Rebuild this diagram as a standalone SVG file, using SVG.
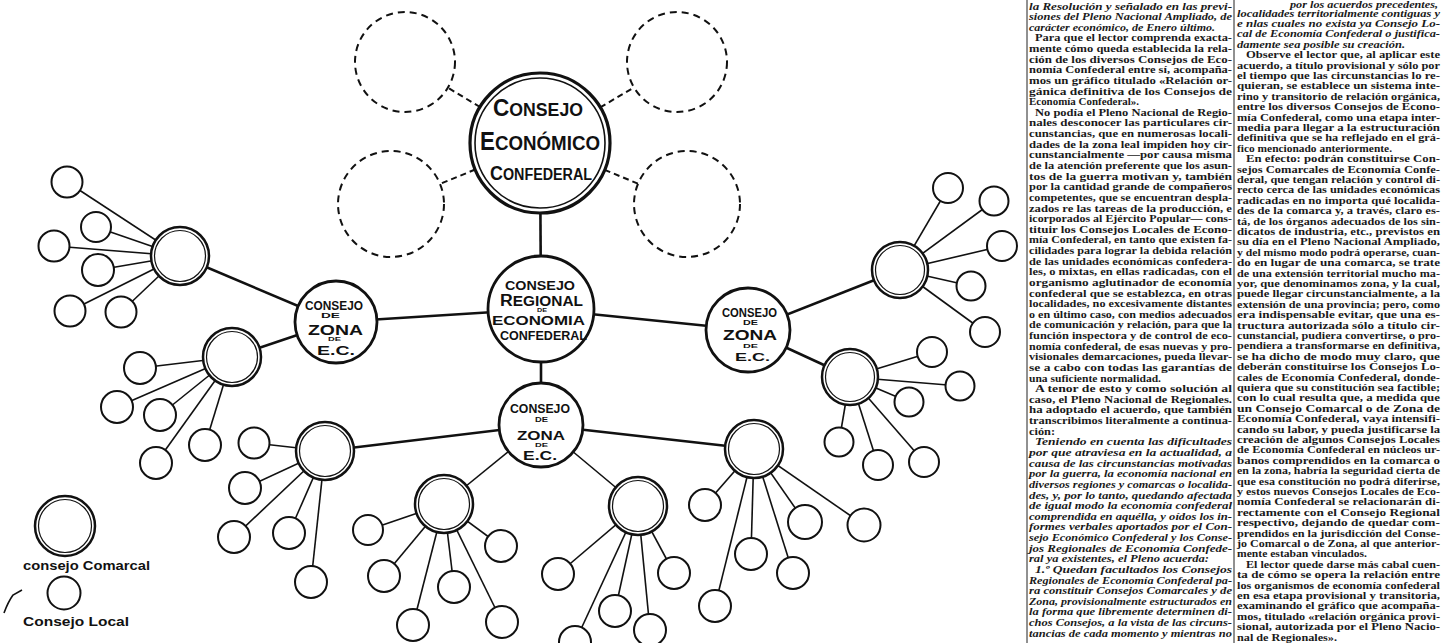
<svg xmlns="http://www.w3.org/2000/svg" width="1443" height="643" viewBox="0 0 1443 643">
<style>
.o{fill:#fff;stroke:#111;stroke-width:2.5}
.in{fill:none;stroke:#111;stroke-width:1.2}
.lc{fill:#fff;stroke:#111;stroke-width:2}
.dc{fill:#fff;stroke:#111;stroke-width:2;stroke-dasharray:7 5}
.ln{stroke:#111;stroke-width:1.6;fill:none}
.lt{stroke:#111;stroke-width:2.6;fill:none}
.dl{stroke:#111;stroke-width:2;stroke-dasharray:6 4;fill:none}
.h{font-family:"Liberation Sans",Arial,sans-serif;font-weight:bold;fill:#111}
.hw{font-family:"Liberation Sans",Arial,sans-serif;font-weight:bold;fill:#111;font-size:12px}
.t{font-family:"Liberation Serif","Times New Roman",serif;font-size:10.5px;font-weight:bold;fill:#1a1a1a}
.i{font-style:italic}
.rule{stroke:#222;stroke-width:1}
</style>
<rect width="1443" height="643" fill="#fff"/>

<g id="connectors">
<line class="lt" x1="540" y1="143" x2="541" y2="309"/>
<line class="dl" x1="540" y1="143" x2="405" y2="62"/>
<line class="dl" x1="540" y1="143" x2="677" y2="62"/>
<line class="dl" x1="540" y1="143" x2="391" y2="204"/>
<line class="dl" x1="540" y1="143" x2="687" y2="204"/>
<line class="lt" x1="541" y1="309" x2="336" y2="322"/>
<line class="lt" x1="541" y1="309" x2="748" y2="330"/>
<line class="lt" x1="541" y1="309" x2="541" y2="425"/>
<line class="lt" x1="336" y1="322" x2="180" y2="256"/>
<line class="lt" x1="336" y1="322" x2="232" y2="357"/>
<line class="lt" x1="748" y1="330" x2="900" y2="270"/>
<line class="lt" x1="748" y1="330" x2="850" y2="377"/>
<line class="lt" x1="541" y1="425" x2="325" y2="451"/>
<line class="ln" x1="541" y1="425" x2="444" y2="504"/>
<line class="ln" x1="541" y1="425" x2="638" y2="506"/>
<line class="lt" x1="541" y1="425" x2="754" y2="449"/>
<line class="ln" x1="180" y1="256" x2="67" y2="182"/>
<line class="ln" x1="180" y1="256" x2="96" y2="227"/>
<line class="ln" x1="180" y1="256" x2="54" y2="246"/>
<line class="ln" x1="180" y1="256" x2="98" y2="270"/>
<line class="ln" x1="180" y1="256" x2="70" y2="311"/>
<line class="ln" x1="180" y1="256" x2="121" y2="312"/>
<line class="ln" x1="232" y1="357" x2="140" y2="368"/>
<line class="ln" x1="232" y1="357" x2="117" y2="407"/>
<line class="ln" x1="232" y1="357" x2="160" y2="415"/>
<line class="ln" x1="232" y1="357" x2="205" y2="445"/>
<line class="ln" x1="232" y1="357" x2="156" y2="463"/>
<line class="ln" x1="900" y1="270" x2="948" y2="188"/>
<line class="ln" x1="900" y1="270" x2="994" y2="201"/>
<line class="ln" x1="900" y1="270" x2="1002" y2="246"/>
<line class="ln" x1="900" y1="270" x2="971" y2="286"/>
<line class="ln" x1="900" y1="270" x2="985" y2="332"/>
<line class="ln" x1="850" y1="377" x2="932" y2="352"/>
<line class="ln" x1="850" y1="377" x2="960" y2="386"/>
<line class="ln" x1="850" y1="377" x2="909" y2="402"/>
<line class="ln" x1="850" y1="377" x2="924" y2="462"/>
<line class="ln" x1="850" y1="377" x2="878" y2="465"/>
<line class="ln" x1="850" y1="377" x2="839" y2="442"/>
<line class="ln" x1="325" y1="451" x2="254" y2="443"/>
<line class="ln" x1="325" y1="451" x2="245" y2="488"/>
<line class="ln" x1="325" y1="451" x2="234" y2="537"/>
<line class="ln" x1="325" y1="451" x2="289" y2="533"/>
<line class="ln" x1="325" y1="451" x2="311" y2="582"/>
<line class="ln" x1="444" y1="504" x2="368" y2="530"/>
<line class="ln" x1="444" y1="504" x2="384" y2="576"/>
<line class="ln" x1="444" y1="504" x2="454" y2="587"/>
<line class="ln" x1="444" y1="504" x2="501" y2="546"/>
<line class="ln" x1="444" y1="504" x2="413" y2="625"/>
<line class="ln" x1="444" y1="504" x2="502" y2="622"/>
<line class="ln" x1="638" y1="506" x2="558" y2="574"/>
<line class="ln" x1="638" y1="506" x2="615" y2="611"/>
<line class="ln" x1="638" y1="506" x2="650" y2="630"/>
<line class="ln" x1="638" y1="506" x2="674" y2="573"/>
<line class="ln" x1="638" y1="506" x2="575" y2="642"/>
<line class="ln" x1="754" y1="449" x2="705" y2="505"/>
<line class="ln" x1="754" y1="449" x2="751" y2="554"/>
<line class="ln" x1="754" y1="449" x2="793" y2="573"/>
<line class="ln" x1="754" y1="449" x2="715" y2="606"/>
<line class="ln" x1="754" y1="449" x2="805" y2="522"/>
<line class="ln" x1="754" y1="449" x2="864" y2="525"/>
</g>

<g id="dashed-tl"><circle class="dc" cx="405" cy="62" r="50"/></g>
<g id="dashed-tr"><circle class="dc" cx="677" cy="62" r="50"/></g>
<g id="dashed-ll"><circle class="dc" cx="391" cy="204" r="53"/></g>
<g id="dashed-lr"><circle class="dc" cx="687" cy="204" r="53"/></g>

<g id="consejo-economico">
<circle class="o" cx="540" cy="143" r="70" style="stroke-width:3.2"/>
<circle class="in" cx="540" cy="143" r="65" style="stroke-width:1.6"/>
<text class="h" x="493" y="116" textLength="90" lengthAdjust="spacingAndGlyphs"><tspan font-size="23">C</tspan><tspan font-size="18">ONSEJO</tspan></text>
<text class="h" x="480" y="150" textLength="120" lengthAdjust="spacingAndGlyphs"><tspan font-size="25">E</tspan><tspan font-size="21">CONÓMICO</tspan></text>
<text class="h" x="490" y="180" textLength="102" lengthAdjust="spacingAndGlyphs"><tspan font-size="20">C</tspan><tspan font-size="16">ONFEDERAL</tspan></text>
</g>

<g id="consejo-regional">
<circle class="o" cx="541" cy="309" r="53" style="stroke-width:2.8"/>
<text class="h" x="505" y="290" font-size="13" textLength="70" lengthAdjust="spacingAndGlyphs">CONSEJO</text>
<text class="h" x="500" y="306" textLength="83" lengthAdjust="spacingAndGlyphs"><tspan font-size="16">R</tspan><tspan font-size="14">EGIONAL</tspan></text>
<text class="h" x="537" y="312" font-size="6" textLength="10" lengthAdjust="spacingAndGlyphs">DE</text>
<text class="h" x="492" y="325" font-size="13.5" textLength="93" lengthAdjust="spacingAndGlyphs">ECONOMIA</text>
<text class="h" x="500" y="340" font-size="12.5" textLength="87" lengthAdjust="spacingAndGlyphs">CONFEDERAL</text>
</g>

<g id="zona-izquierda">
<circle class="o" cx="336" cy="322" r="41" style="stroke-width:2.8"/>
<text class="h" x="305" y="310" font-size="12.5" textLength="58" lengthAdjust="spacingAndGlyphs">CONSEJO</text>
<text class="h" x="321" y="318" font-size="7.5" textLength="19" lengthAdjust="spacingAndGlyphs">DE</text>
<text class="h" x="308" y="335" font-size="14" textLength="55" lengthAdjust="spacingAndGlyphs">ZONA</text>
<text class="h" x="328" y="341" font-size="5.5" textLength="13" lengthAdjust="spacingAndGlyphs">DE</text>
<text class="h" x="317" y="355" font-size="12.5" textLength="38" lengthAdjust="spacingAndGlyphs">E.C.</text>
</g>

<g id="zona-derecha">
<circle class="o" cx="748" cy="330" r="42" style="stroke-width:2.8"/>
<text class="h" x="722" y="317" font-size="12" textLength="55" lengthAdjust="spacingAndGlyphs">CONSEJO</text>
<text class="h" x="743" y="325" font-size="7.5" textLength="15" lengthAdjust="spacingAndGlyphs">DE</text>
<text class="h" x="723" y="340" font-size="14" textLength="54" lengthAdjust="spacingAndGlyphs">ZONA</text>
<text class="h" x="743" y="347.5" font-size="6" textLength="15" lengthAdjust="spacingAndGlyphs">DE</text>
<text class="h" x="735" y="361" font-size="11.5" textLength="35" lengthAdjust="spacingAndGlyphs">E.C.</text>
</g>

<g id="zona-inferior">
<circle class="o" cx="541" cy="425" r="42" style="stroke-width:2.8"/>
<text class="h" x="510" y="413" font-size="12.5" textLength="60" lengthAdjust="spacingAndGlyphs">CONSEJO</text>
<text class="h" x="535" y="422" font-size="6.5" textLength="13" lengthAdjust="spacingAndGlyphs">DE</text>
<text class="h" x="517" y="440" font-size="12.5" textLength="48" lengthAdjust="spacingAndGlyphs">ZONA</text>
<text class="h" x="535" y="446.5" font-size="5.5" textLength="13" lengthAdjust="spacingAndGlyphs">DE</text>
<text class="h" x="523" y="460" font-size="12" textLength="34" lengthAdjust="spacingAndGlyphs">E.C.</text>
</g>

<g id="comarcal-1"><circle class="o" cx="180" cy="256" r="29"/><circle class="in" cx="180" cy="256" r="25.5"/></g>
<g id="comarcal-2"><circle class="o" cx="232" cy="357" r="29"/><circle class="in" cx="232" cy="357" r="25.5"/></g>
<g id="comarcal-3"><circle class="o" cx="900" cy="270" r="28"/><circle class="in" cx="900" cy="270" r="24.5"/></g>
<g id="comarcal-4"><circle class="o" cx="850" cy="377" r="28"/><circle class="in" cx="850" cy="377" r="24.5"/></g>
<g id="comarcal-5"><circle class="o" cx="325" cy="451" r="29"/><circle class="in" cx="325" cy="451" r="25.5"/></g>
<g id="comarcal-6"><circle class="o" cx="444" cy="504" r="29"/><circle class="in" cx="444" cy="504" r="25.5"/></g>
<g id="comarcal-7"><circle class="o" cx="638" cy="506" r="29"/><circle class="in" cx="638" cy="506" r="25.5"/></g>
<g id="comarcal-8"><circle class="o" cx="754" cy="449" r="29"/><circle class="in" cx="754" cy="449" r="25.5"/></g>

<g id="local-1a"><circle class="lc" cx="67" cy="182" r="15.5"/></g>
<g id="local-1b"><circle class="lc" cx="96" cy="227" r="15"/></g>
<g id="local-1c"><circle class="lc" cx="54" cy="246" r="15.5"/></g>
<g id="local-1d"><circle class="lc" cx="98" cy="270" r="16"/></g>
<g id="local-1e"><circle class="lc" cx="70" cy="311" r="15.5"/></g>
<g id="local-1f"><circle class="lc" cx="121" cy="312" r="15.5"/></g>
<g id="local-2a"><circle class="lc" cx="140" cy="368" r="16"/></g>
<g id="local-2b"><circle class="lc" cx="117" cy="407" r="16"/></g>
<g id="local-2c"><circle class="lc" cx="160" cy="415" r="16"/></g>
<g id="local-2d"><circle class="lc" cx="205" cy="445" r="16"/></g>
<g id="local-2e"><circle class="lc" cx="156" cy="463" r="16"/></g>
<g id="local-3a"><circle class="lc" cx="948" cy="188" r="15"/></g>
<g id="local-3b"><circle class="lc" cx="994" cy="201" r="14.5"/></g>
<g id="local-3c"><circle class="lc" cx="1002" cy="246" r="15"/></g>
<g id="local-3d"><circle class="lc" cx="971" cy="286" r="14.5"/></g>
<g id="local-3e"><circle class="lc" cx="985" cy="332" r="15"/></g>
<g id="local-4a"><circle class="lc" cx="932" cy="352" r="15"/></g>
<g id="local-4b"><circle class="lc" cx="960" cy="386" r="14.5"/></g>
<g id="local-4c"><circle class="lc" cx="909" cy="402" r="14.5"/></g>
<g id="local-4d"><circle class="lc" cx="924" cy="462" r="15"/></g>
<g id="local-4e"><circle class="lc" cx="878" cy="465" r="15"/></g>
<g id="local-4f"><circle class="lc" cx="839" cy="442" r="14.5"/></g>
<g id="local-5a"><circle class="lc" cx="254" cy="443" r="15.5"/></g>
<g id="local-5b"><circle class="lc" cx="245" cy="488" r="16"/></g>
<g id="local-5c"><circle class="lc" cx="234" cy="537" r="16"/></g>
<g id="local-5d"><circle class="lc" cx="289" cy="533" r="16"/></g>
<g id="local-5e"><circle class="lc" cx="311" cy="582" r="16"/></g>
<g id="local-6a"><circle class="lc" cx="368" cy="530" r="15"/></g>
<g id="local-6b"><circle class="lc" cx="384" cy="576" r="16"/></g>
<g id="local-6c"><circle class="lc" cx="454" cy="587" r="16"/></g>
<g id="local-6d"><circle class="lc" cx="501" cy="546" r="16"/></g>
<g id="local-6e"><circle class="lc" cx="413" cy="625" r="16"/></g>
<g id="local-6f"><circle class="lc" cx="502" cy="622" r="16"/></g>
<g id="local-7a"><circle class="lc" cx="558" cy="574" r="16"/></g>
<g id="local-7b"><circle class="lc" cx="615" cy="611" r="16"/></g>
<g id="local-7c"><circle class="lc" cx="650" cy="630" r="16"/></g>
<g id="local-7d"><circle class="lc" cx="674" cy="573" r="16"/></g>
<g id="local-7e"><circle class="lc" cx="575" cy="642" r="16"/></g>
<g id="local-8a"><circle class="lc" cx="705" cy="505" r="16"/></g>
<g id="local-8b"><circle class="lc" cx="751" cy="554" r="16"/></g>
<g id="local-8c"><circle class="lc" cx="793" cy="573" r="16"/></g>
<g id="local-8d"><circle class="lc" cx="715" cy="606" r="16"/></g>
<g id="local-8e"><circle class="lc" cx="805" cy="522" r="17"/></g>
<g id="local-8f"><circle class="lc" cx="864" cy="525" r="16.5"/></g>

<g id="legend">
<circle class="o" cx="65" cy="526" r="30"/><circle class="in" cx="65" cy="526" r="26.5"/>
<text class="hw" x="23" y="570" textLength="127" lengthAdjust="spacingAndGlyphs">consejo Comarcal</text>
<circle class="lc" cx="64" cy="593" r="16.5"/>
<text class="hw" x="23" y="626" textLength="106" lengthAdjust="spacingAndGlyphs">Consejo Local</text>
<path class="ln" d="M22 590 L13 595 Q8 602 4 613"/>
</g>

<g id="rules">
<line class="rule" x1="1027" y1="0" x2="1027" y2="643"/>
<line class="rule" x1="1234" y1="0" x2="1234" y2="643"/>
</g>

<g id="col-left" class="t">
<text class="i" x="1029" y="9.5" textLength="203" lengthAdjust="spacingAndGlyphs">la Resolución y señalado en las previ-</text>
<text class="i" x="1029" y="20.1" textLength="203" lengthAdjust="spacingAndGlyphs">siones del Pleno Nacional Ampliado, de</text>
<text class="i" x="1029" y="30.8" textLength="186" lengthAdjust="spacingAndGlyphs">carácter económico, de Enero último.</text>
<text x="1035" y="41.4" textLength="197" lengthAdjust="spacingAndGlyphs">Para que el lector comprenda exacta-</text>
<text x="1029" y="52.0" textLength="203" lengthAdjust="spacingAndGlyphs">mente cómo queda establecida la rela-</text>
<text x="1029" y="62.7" textLength="203" lengthAdjust="spacingAndGlyphs">ción de los diversos Consejos de Eco-</text>
<text x="1029" y="73.3" textLength="203" lengthAdjust="spacingAndGlyphs">nomía Confederal entre sí, acompaña-</text>
<text x="1029" y="83.9" textLength="203" lengthAdjust="spacingAndGlyphs">mos un gráfico titulado «Relación or-</text>
<text x="1029" y="94.5" textLength="203" lengthAdjust="spacingAndGlyphs">gánica definitiva de los Consejos de</text>
<text x="1029" y="105.2" textLength="110" lengthAdjust="spacingAndGlyphs">Economía Confederal».</text>
<text x="1035" y="115.8" textLength="197" lengthAdjust="spacingAndGlyphs">No podía el Pleno Nacional de Regio-</text>
<text x="1029" y="126.4" textLength="203" lengthAdjust="spacingAndGlyphs">nales desconocer las particulares cir-</text>
<text x="1029" y="137.1" textLength="203" lengthAdjust="spacingAndGlyphs">cunstancias, que en numerosas locali-</text>
<text x="1029" y="147.7" textLength="203" lengthAdjust="spacingAndGlyphs">dades de la zona leal impiden hoy cir-</text>
<text x="1029" y="158.3" textLength="203" lengthAdjust="spacingAndGlyphs">cunstancialmente —por causa misma</text>
<text x="1029" y="169.0" textLength="203" lengthAdjust="spacingAndGlyphs">de la atención preferente que los asun-</text>
<text x="1029" y="179.6" textLength="203" lengthAdjust="spacingAndGlyphs">tos de la guerra motivan y, también</text>
<text x="1029" y="190.2" textLength="203" lengthAdjust="spacingAndGlyphs">por la cantidad grande de compañeros</text>
<text x="1029" y="200.8" textLength="203" lengthAdjust="spacingAndGlyphs">competentes, que se encuentran despla-</text>
<text x="1029" y="211.5" textLength="203" lengthAdjust="spacingAndGlyphs">zados re las tareas de la producción, e</text>
<text x="1029" y="222.1" textLength="203" lengthAdjust="spacingAndGlyphs">icorporados al Ejército Popular— cons-</text>
<text x="1029" y="232.7" textLength="203" lengthAdjust="spacingAndGlyphs">tituir los Consejos Locales de Econo-</text>
<text x="1029" y="243.4" textLength="203" lengthAdjust="spacingAndGlyphs">mía Confederal, en tanto que existen fa-</text>
<text x="1029" y="254.0" textLength="203" lengthAdjust="spacingAndGlyphs">cilidades para lograr la debida relación</text>
<text x="1029" y="264.6" textLength="203" lengthAdjust="spacingAndGlyphs">de las unidades económicas confedera-</text>
<text x="1029" y="275.3" textLength="203" lengthAdjust="spacingAndGlyphs">les, o mixtas, en ellas radicadas, con el</text>
<text x="1029" y="285.9" textLength="203" lengthAdjust="spacingAndGlyphs">organismo aglutinador de economía</text>
<text x="1029" y="296.5" textLength="203" lengthAdjust="spacingAndGlyphs">confederal que se establezca, en otras</text>
<text x="1029" y="307.1" textLength="203" lengthAdjust="spacingAndGlyphs">localidades, no excesivamente distantes</text>
<text x="1029" y="317.8" textLength="203" lengthAdjust="spacingAndGlyphs">o en último caso, con medios adecuados</text>
<text x="1029" y="328.4" textLength="203" lengthAdjust="spacingAndGlyphs">de comunicación y relación, para que la</text>
<text x="1029" y="339.0" textLength="203" lengthAdjust="spacingAndGlyphs">función inspectora y de control de eco-</text>
<text x="1029" y="349.7" textLength="203" lengthAdjust="spacingAndGlyphs">nomía confederal, de esas nuevas y pro-</text>
<text x="1029" y="360.3" textLength="203" lengthAdjust="spacingAndGlyphs">visionales demarcaciones, pueda llevar-</text>
<text x="1029" y="370.9" textLength="203" lengthAdjust="spacingAndGlyphs">se a cabo con todas las garantías de</text>
<text x="1029" y="381.6" textLength="132" lengthAdjust="spacingAndGlyphs">una suficiente normalidad.</text>
<text x="1035" y="392.2" textLength="197" lengthAdjust="spacingAndGlyphs">A tenor de esto y como solución al</text>
<text x="1029" y="402.8" textLength="203" lengthAdjust="spacingAndGlyphs">caso, el Pleno Nacional de Regionales.</text>
<text x="1029" y="413.4" textLength="203" lengthAdjust="spacingAndGlyphs">ha adoptado el acuerdo, que también</text>
<text x="1029" y="424.1" textLength="203" lengthAdjust="spacingAndGlyphs">transcribimos literalmente a continua-</text>
<text x="1029" y="434.7" textLength="26" lengthAdjust="spacingAndGlyphs">ción:</text>
<text class="i" x="1035" y="445.3" textLength="197" lengthAdjust="spacingAndGlyphs">Teniendo en cuenta las dificultades</text>
<text class="i" x="1029" y="456.0" textLength="203" lengthAdjust="spacingAndGlyphs">por que atraviesa en la actualidad, a</text>
<text class="i" x="1029" y="466.6" textLength="203" lengthAdjust="spacingAndGlyphs">causa de las circunstancias motivadas</text>
<text class="i" x="1029" y="477.2" textLength="203" lengthAdjust="spacingAndGlyphs">por la guerra, la economía nacional en</text>
<text class="i" x="1029" y="487.8" textLength="203" lengthAdjust="spacingAndGlyphs">diversos regiones y comarcas o localida-</text>
<text class="i" x="1029" y="498.5" textLength="203" lengthAdjust="spacingAndGlyphs">des, y, por lo tanto, quedando afectada</text>
<text class="i" x="1029" y="509.1" textLength="203" lengthAdjust="spacingAndGlyphs">de igual modo la economía confederal</text>
<text class="i" x="1029" y="519.7" textLength="203" lengthAdjust="spacingAndGlyphs">comprendida en aquélla, y oídos los in-</text>
<text class="i" x="1029" y="530.4" textLength="203" lengthAdjust="spacingAndGlyphs">formes verbales aportados por el Con-</text>
<text class="i" x="1029" y="541.0" textLength="203" lengthAdjust="spacingAndGlyphs">sejo Económico Confederal y los Conse-</text>
<text class="i" x="1029" y="551.6" textLength="203" lengthAdjust="spacingAndGlyphs">jos Regionales de Economía Confede-</text>
<text class="i" x="1029" y="562.3" textLength="180" lengthAdjust="spacingAndGlyphs">ral ya existentes, el Pleno acuerda:</text>
<text class="i" x="1035" y="572.9" textLength="197" lengthAdjust="spacingAndGlyphs">1.º Quedan facultados los Consejos</text>
<text class="i" x="1029" y="583.5" textLength="203" lengthAdjust="spacingAndGlyphs">Regionales de Economía Confederal pa-</text>
<text class="i" x="1029" y="594.1" textLength="203" lengthAdjust="spacingAndGlyphs">ra constituir Consejos Comarcales y de</text>
<text class="i" x="1029" y="604.8" textLength="203" lengthAdjust="spacingAndGlyphs">Zona, provisionalmente estructurados en</text>
<text class="i" x="1029" y="615.4" textLength="203" lengthAdjust="spacingAndGlyphs">la forma que libremente determinen di-</text>
<text class="i" x="1029" y="626.0" textLength="203" lengthAdjust="spacingAndGlyphs">chos Consejos, a la vista de las circuns-</text>
<text class="i" x="1029" y="636.7" textLength="203" lengthAdjust="spacingAndGlyphs">tancias de cada momento y mientras no</text>
</g>

<g id="col-right" class="t">
<text class="i" x="1290" y="7.5" font-size="9.5" textLength="148" lengthAdjust="spacingAndGlyphs">por los acuerdos precedentes,</text>
<text class="i" x="1237" y="16.5" textLength="203" lengthAdjust="spacingAndGlyphs">localidades territorialmente contiguas y</text>
<text class="i" x="1237" y="26.9" textLength="203" lengthAdjust="spacingAndGlyphs">e nlas cuales no exista ya Consejo Lo-</text>
<text class="i" x="1237" y="37.3" textLength="203" lengthAdjust="spacingAndGlyphs">cal de Economía Confederal o justifica-</text>
<text class="i" x="1237" y="47.7" textLength="168" lengthAdjust="spacingAndGlyphs">damente sea posible su creación.</text>
<text x="1246" y="58.1" textLength="194" lengthAdjust="spacingAndGlyphs">Observe el lector que, al aplicar este</text>
<text x="1237" y="68.5" textLength="203" lengthAdjust="spacingAndGlyphs">acuerdo, a título provisional y sólo por</text>
<text x="1237" y="78.9" textLength="203" lengthAdjust="spacingAndGlyphs">el tiempo que las circunstancias lo re-</text>
<text x="1237" y="89.3" textLength="203" lengthAdjust="spacingAndGlyphs">quieran, se establece un sistema inte-</text>
<text x="1237" y="99.7" textLength="203" lengthAdjust="spacingAndGlyphs">rino y transitorio de relación orgánica,</text>
<text x="1237" y="110.1" textLength="203" lengthAdjust="spacingAndGlyphs">entre los diversos Consejos de Econo-</text>
<text x="1237" y="120.5" textLength="203" lengthAdjust="spacingAndGlyphs">mía Confederal, como una etapa inter-</text>
<text x="1237" y="130.9" textLength="203" lengthAdjust="spacingAndGlyphs">media para llegar a la estructuración</text>
<text x="1237" y="141.3" textLength="203" lengthAdjust="spacingAndGlyphs">definitiva que se ha reflejado en el grá-</text>
<text x="1237" y="151.7" textLength="155" lengthAdjust="spacingAndGlyphs">fico mencionado anteriormente.</text>
<text x="1246" y="162.1" textLength="194" lengthAdjust="spacingAndGlyphs">En efecto: podrán constituirse Con-</text>
<text x="1237" y="172.5" textLength="203" lengthAdjust="spacingAndGlyphs">sejos Comarcales de Economía Confe-</text>
<text x="1237" y="182.9" textLength="203" lengthAdjust="spacingAndGlyphs">deral, que tengan relación y control di-</text>
<text x="1237" y="193.3" textLength="203" lengthAdjust="spacingAndGlyphs">recto cerca de las unidades económicas</text>
<text x="1237" y="203.7" textLength="203" lengthAdjust="spacingAndGlyphs">radicadas en no importa qué localida-</text>
<text x="1237" y="214.1" textLength="203" lengthAdjust="spacingAndGlyphs">des de la comarca y, a través, claro es-</text>
<text x="1237" y="224.5" textLength="203" lengthAdjust="spacingAndGlyphs">tá, de los órganos adecuados de los sin-</text>
<text x="1237" y="234.9" textLength="203" lengthAdjust="spacingAndGlyphs">dicatos de industria, etc., previstos en</text>
<text x="1237" y="245.3" textLength="203" lengthAdjust="spacingAndGlyphs">su día en el Pleno Nacional Ampliado,</text>
<text x="1237" y="255.7" textLength="203" lengthAdjust="spacingAndGlyphs">y del mismo modo podrá operarse, cuan-</text>
<text x="1237" y="266.1" textLength="203" lengthAdjust="spacingAndGlyphs">do en lugar de una comarca, se trate</text>
<text x="1237" y="276.5" textLength="203" lengthAdjust="spacingAndGlyphs">de una extensión territorial mucho ma-</text>
<text x="1237" y="286.9" textLength="203" lengthAdjust="spacingAndGlyphs">yor, que denominamos zona, y la cual,</text>
<text x="1237" y="297.3" textLength="203" lengthAdjust="spacingAndGlyphs">puede llegar circunstancialmente, a la</text>
<text x="1237" y="307.7" textLength="203" lengthAdjust="spacingAndGlyphs">extensión de una provincia; pero, como</text>
<text x="1237" y="318.1" textLength="203" lengthAdjust="spacingAndGlyphs">era indispensable evitar, que una es-</text>
<text x="1237" y="328.5" textLength="203" lengthAdjust="spacingAndGlyphs">tructura autorizada sólo a título cir-</text>
<text x="1237" y="338.9" textLength="203" lengthAdjust="spacingAndGlyphs">cunstancial, pudiera convertirse, o pro-</text>
<text x="1237" y="349.3" textLength="203" lengthAdjust="spacingAndGlyphs">pendiera a transformarse en definitiva,</text>
<text x="1237" y="359.7" textLength="203" lengthAdjust="spacingAndGlyphs">se ha dicho de modo muy claro, que</text>
<text x="1237" y="370.1" textLength="203" lengthAdjust="spacingAndGlyphs">deberán constituirse los Consejos Lo-</text>
<text x="1237" y="380.5" textLength="203" lengthAdjust="spacingAndGlyphs">cales de Economía Confederal, donde-</text>
<text x="1237" y="390.9" textLength="203" lengthAdjust="spacingAndGlyphs">quiera que su constitución sea factible;</text>
<text x="1237" y="401.3" textLength="203" lengthAdjust="spacingAndGlyphs">con lo cual resulta que, a medida que</text>
<text x="1237" y="411.7" textLength="203" lengthAdjust="spacingAndGlyphs">un Consejo Comarcal o de Zona de</text>
<text x="1237" y="422.1" textLength="203" lengthAdjust="spacingAndGlyphs">Economía Confederal, vaya intensifi-</text>
<text x="1237" y="432.5" textLength="203" lengthAdjust="spacingAndGlyphs">cando su labor, y pueda justificarse la</text>
<text x="1237" y="442.9" textLength="203" lengthAdjust="spacingAndGlyphs">creación de algunos Consejos Locales</text>
<text x="1237" y="453.3" textLength="203" lengthAdjust="spacingAndGlyphs">de Economía Confederal en núcleos ur-</text>
<text x="1237" y="463.7" textLength="203" lengthAdjust="spacingAndGlyphs">banos comprendidos en la comarca o</text>
<text x="1237" y="474.1" textLength="203" lengthAdjust="spacingAndGlyphs">en la zona, habría la seguridad cierta de</text>
<text x="1237" y="484.5" textLength="203" lengthAdjust="spacingAndGlyphs">que esa constitución no podrá diferirse,</text>
<text x="1237" y="494.9" textLength="203" lengthAdjust="spacingAndGlyphs">y estos nuevos Consejos Locales de Eco-</text>
<text x="1237" y="505.3" textLength="203" lengthAdjust="spacingAndGlyphs">nomía Confederal se relacionarán di-</text>
<text x="1237" y="515.7" textLength="203" lengthAdjust="spacingAndGlyphs">rectamente con el Consejo Regional</text>
<text x="1237" y="526.1" textLength="203" lengthAdjust="spacingAndGlyphs">respectivo, dejando de quedar com-</text>
<text x="1237" y="536.5" textLength="203" lengthAdjust="spacingAndGlyphs">prendidos en la jurisdicción del Conse-</text>
<text x="1237" y="546.9" textLength="203" lengthAdjust="spacingAndGlyphs">jo Comarcal o de Zona, al que anterior-</text>
<text x="1237" y="557.3" textLength="130" lengthAdjust="spacingAndGlyphs">mente estaban vinculados.</text>
<text x="1246" y="567.7" textLength="194" lengthAdjust="spacingAndGlyphs">El lector quede darse más cabal cuen-</text>
<text x="1237" y="578.1" textLength="203" lengthAdjust="spacingAndGlyphs">ta de cómo se opera la relación entre</text>
<text x="1237" y="588.5" textLength="203" lengthAdjust="spacingAndGlyphs">los organismos de economía confederal</text>
<text x="1237" y="598.9" textLength="203" lengthAdjust="spacingAndGlyphs">en esa etapa provisional y transitoria,</text>
<text x="1237" y="609.3" textLength="203" lengthAdjust="spacingAndGlyphs">examinando el gráfico que acompaña-</text>
<text x="1237" y="619.7" textLength="203" lengthAdjust="spacingAndGlyphs">mos, titulado «relación orgánica provi-</text>
<text x="1237" y="630.1" textLength="203" lengthAdjust="spacingAndGlyphs">sional, autorizada por el Pleno Nacio-</text>
<text x="1237" y="640.5" textLength="100" lengthAdjust="spacingAndGlyphs">nal de Regionales».</text>
</g>
</svg>
